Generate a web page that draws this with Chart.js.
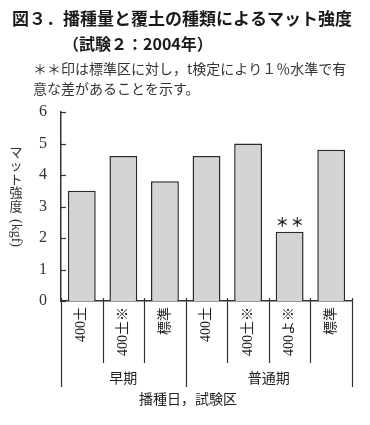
<!DOCTYPE html>
<html>
<head>
<meta charset="utf-8">
<script src="https://cdn.jsdelivr.net/npm/chart.js@4"></script>
<style>
  body { margin: 0; background: #fff; }
  canvas { display: block; }
</style>
</head>
<body>
<canvas id="grafico" width="370" height="425"></canvas>
<script>
// dados do gráfico
const categorias = ['400土', '400土※', '標準', '400土', '400土※', '400よ※', '標準'];
const grupos = ['早期', '普通期'];
const tamanhoGrupos = [3, 4];
const forcaMat = [3.5, 4.6, 3.8, 4.6, 5.0, 2.2, 4.8];
const marcasSignif = ['', '', '', '', '', '＊＊', ''];
const ticksY = [0, 1, 2, 3, 4, 5, 6];

const serif = "'Liberation Serif', 'DejaVu Serif', 'Noto Sans CJK JP', serif";
const gothic = "'Noto Sans CJK JP', sans-serif";

// textos e desenhos extras
const extras = {
  id: 'extras',
  afterDraw(chart) {
    const ctx = chart.ctx;
    const area = chart.chartArea;
    const x = chart.scales.x;
    const y = chart.scales.y;
    ctx.save();
    ctx.fillStyle = '#1a1a1a';
    ctx.strokeStyle = '#333';

    // título
    ctx.textBaseline = 'middle';
    ctx.textAlign = 'left';
    ctx.font = 'bold 17px ' + gothic;
    ctx.fillText('図３．播種量と覆土の種類によるマット強度', 12, 19);
    ctx.font = 'bold 16px ' + gothic;
    ctx.fillText('（試験２：2004年）', 63, 44);
    ctx.font = '14px ' + gothic;
    ctx.fillStyle = '#333';
    ctx.fillText('＊＊印は標準区に対し，t検定により１％水準で有', 33, 69);
    ctx.fillText('意な差があることを示す。', 33, 89);

    // título do eixo y (vertical)
    ctx.font = '13px ' + gothic;
    ctx.textAlign = 'center';
    const letras = ['マ', 'ッ', 'ト', '強', '度'];
    letras.forEach((c, i) => ctx.fillText(c, 16, 152 + i * 13.5));
    ctx.save();
    ctx.translate(16, 219);
    ctx.rotate(Math.PI / 2);
    ctx.textAlign = 'left';
    ctx.font = '14px ' + serif;
    ctx.fillText('(kgf)', 0, 0);
    ctx.restore();

    // ticks para dentro no eixo y
    ctx.lineWidth = 1.2;
    ticksY.forEach(v => {
      const py = Math.round(y.getPixelForValue(v)) + 0.5;
      ctx.beginPath();
      ctx.moveTo(area.left, py);
      ctx.lineTo(area.left + 5, py);
      ctx.stroke();
    });

    // divisórias das categorias e dos grupos
    const limites = [-0.5];
    let acc = -0.5;
    tamanhoGrupos.forEach(n => { acc += n; limites.push(acc); });
    for (let i = 0; i <= categorias.length; i++) {
      const v = i - 0.5;
      const px = Math.round(x.getPixelForValue(v)) + 0.5;
      const longa = limites.includes(v);
      ctx.beginPath();
      ctx.moveTo(px, area.bottom - 3);
      ctx.lineTo(px, longa ? 387 : 363);
      ctx.stroke();
    }

    // rótulos das categorias (rotacionados)
    ctx.font = '14px ' + serif;
    ctx.fillStyle = '#222';
    categorias.forEach((c, i) => {
      const px = x.getPixelForValue(i);
      ctx.save();
      ctx.translate(px, area.bottom + 6);
      ctx.rotate(-Math.PI / 2);
      ctx.textAlign = 'right';
      ctx.textBaseline = 'middle';
      ctx.fillText(c, 0, 0);
      ctx.restore();
    });

    // rótulos dos grupos
    ctx.font = '14px ' + gothic;
    ctx.textAlign = 'center';
    ctx.textBaseline = 'middle';
    let ini = -0.5;
    grupos.forEach((g, i) => {
      const fim = ini + tamanhoGrupos[i];
      const cx = (x.getPixelForValue(ini) + x.getPixelForValue(fim)) / 2;
      ctx.fillText(g, cx, 378);
      ini = fim;
    });

    // título do eixo x
    ctx.fillText('播種日，試験区', 188, 399);

    // marcas de significância (um asterisco de cada vez, mais espaçados)
    const meta = chart.getDatasetMeta(0);
    ctx.font = 'bold 13px ' + gothic;
    ctx.textBaseline = 'bottom';
    marcasSignif.forEach((m, i) => {
      if (!m) return;
      const bar = meta.data[i];
      const chars = [...m];
      const passo = 15;
      const x0 = bar.x - passo * (chars.length - 1) / 2;
      chars.forEach((c, k) => ctx.fillText(c, x0 + k * passo, bar.y - 3));
    });

    ctx.restore();
  }
};

const config = {
  type: 'bar',
  data: {
    labels: categorias,
    datasets: [{
      data: forcaMat,
      backgroundColor: '#d4d4d4',
      borderColor: '#2a2a2a',
      borderWidth: 1.5,
      borderSkipped: 'bottom',
      barPercentage: 0.67,
      categoryPercentage: 1
    }]
  },
  options: {
    responsive: false,
    animation: false,
    layout: { padding: { top: 112, right: 18, left: 0, bottom: 0 } },
    plugins: {
      legend: { display: false },
      tooltip: { enabled: false }
    },
    scales: {
      x: {
        offset: true,
        grid: { display: false, drawTicks: false },
        border: { display: true, color: '#333', width: 1.5 },
        ticks: { display: false },
        afterFit: s => { s.height = 124; }
      },
      y: {
        min: 0,
        max: 6,
        grid: { display: false, drawTicks: false },
        border: { display: true, color: '#333', width: 1.5 },
        ticks: {
          stepSize: 1,
          padding: 14,
          color: '#333',
          font: { family: serif, size: 16 }
        },
        afterFit: s => { s.width = 61; }
      }
    }
  },
  plugins: [extras]
};

new Chart(document.getElementById('grafico'), config);
</script>
</body>
</html>
